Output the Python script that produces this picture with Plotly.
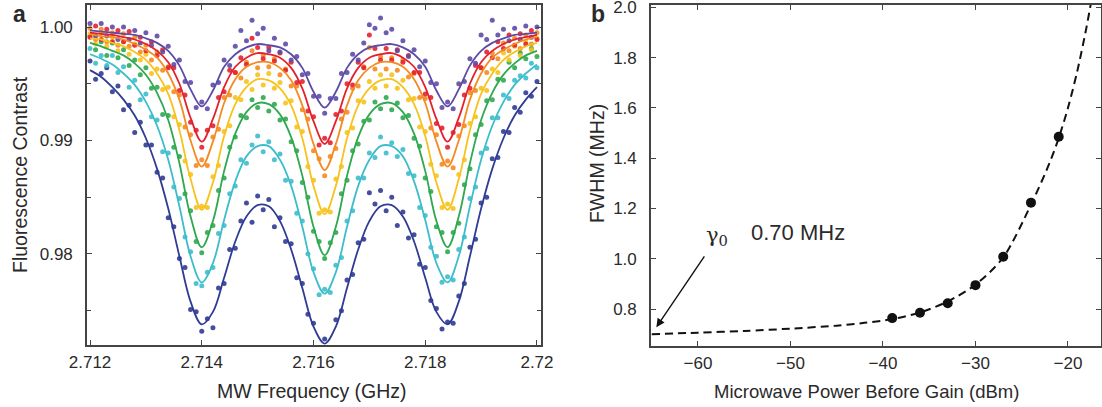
import plotly.graph_objects as go

# ---------------- Panel a data ----------------
FREQ_FIT = [round(2.712 + 0.0002 * i, 4) for i in range(41)]   # GHz
FREQ_DATA = [round(2.712 + 0.0001 * i, 4) for i in range(81)]  # GHz

SERIES_ORDER = ["navy", "cyan", "green", "yellow", "orange", "red", "purple"]

DATA_NAVY = [
    .9970, .9954, .9959, .9964, .9943, .9948, .9927, .9931, .9907, .9916,
    .9896, .9896, .9872, .9867, .9832, .9824, .9796, .9788, .9751, .9749,
    .9732, .9743, .9735, .9770, .9774, .9804, .9805, .9829, .9845, .9828,
    .9851, .9839, .9848, .9824, .9832, .9811, .9809, .9779, .9774, .9747,
    .9739, .9716, .9725, .9714, .9742, .9750, .9777, .9782, .9810, .9813,
    .9854, .9844, .9856, .9838, .9850, .9825, .9837, .9814, .9817, .9791,
    .9788, .9759, .9752, .9734, .9740, .9739, .9763, .9774, .9806, .9813,
    .9845, .9850, .9884, .9885, .9908, .9907, .9929, .9925, .9942, .9939,
    .9952]
DATA_CYAN = [
    .9981, .9968, .9975, .9966, .9975, .9960, .9965, .9947, .9953, .9936,
    .9941, .9921, .9918, .9890, .9889, .9859, .9849, .9815, .9802, .9774,
    .9772, .9784, .9788, .9818, .9825, .9853, .9860, .9883, .9880, .9896,
    .9904, .9890, .9899, .9883, .9888, .9865, .9864, .9836, .9829, .9800,
    .9787, .9764, .9769, .9766, .9790, .9797, .9829, .9838, .9867, .9867,
    .9889, .9885, .9903, .9889, .9898, .9886, .9892, .9871, .9869, .9841,
    .9834, .9806, .9798, .9775, .9780, .9777, .9804, .9815, .9849, .9859,
    .9889, .9893, .9920, .9920, .9940, .9937, .9953, .9957, .9955, .9968,
    .9964]
DATA_GREEN = [
    .9992, .9980, .9987, .9975, .9986, .9973, .9980, .9966, .9971, .9958,
    .9964, .9946, .9947, .9923, .9922, .9894, .9886, .9853, .9838, .9811,
    .9801, .9819, .9825, .9856, .9867, .9894, .9903, .9922, .9920, .9936,
    .9929, .9938, .9926, .9932, .9918, .9919, .9899, .9891, .9863, .9850,
    .9820, .9811, .9796, .9810, .9819, .9853, .9865, .9891, .9897, .9917,
    .9918, .9934, .9928, .9938, .9927, .9933, .9920, .9922, .9902, .9895,
    .9867, .9855, .9824, .9819, .9802, .9819, .9827, .9861, .9875, .9905,
    .9914, .9935, .9936, .9954, .9953, .9969, .9964, .9977, .9972, .9981,
    .9974]
DATA_YELLOW = [
    .9994, .9985, .9995, .9983, .9991, .9979, .9987, .9976, .9985, .9971,
    .9976, .9959, .9963, .9945, .9947, .9921, .9914, .9882, .9870, .9841,
    .9842, .9841, .9868, .9878, .9908, .9913, .9938, .9936, .9952, .9945,
    .9958, .9949, .9959, .9946, .9951, .9933, .9935, .9912, .9908, .9877,
    .9865, .9836, .9839, .9837, .9866, .9877, .9907, .9911, .9935, .9934,
    .9952, .9946, .9958, .9948, .9958, .9946, .9953, .9936, .9937, .9912,
    .9908, .9879, .9869, .9841, .9844, .9840, .9870, .9883, .9915, .9921,
    .9946, .9944, .9963, .9960, .9977, .9971, .9983, .9975, .9987, .9980,
    .9990]
DATA_ORANGE = [
    .9999, .9989, .9998, .9987, .9995, .9984, .9994, .9983, .9991, .9978,
    .9984, .9971, .9978, .9962, .9965, .9943, .9940, .9912, .9905, .9878,
    .9883, .9878, .9903, .9910, .9938, .9940, .9960, .9955, .9969, .9979,
    .9964, .9975, .9965, .9972, .9958, .9963, .9948, .9948, .9927, .9919,
    .9891, .9884, .9869, .9886, .9893, .9919, .9925, .9946, .9948, .9965,
    .9982, .9963, .9974, .9963, .9973, .9962, .9971, .9956, .9959, .9938,
    .9937, .9911, .9905, .9879, .9882, .9876, .9904, .9913, .9942, .9944,
    .9964, .9960, .9977, .9972, .9986, .9979, .9990, .9981, .9993, .9985,
    .9995]
DATA_RED = [
    .9991, 1.0001, .9989, .9998, .9987, .9997, .9987, .9996, .9984, .9991,
    .9979, .9987, .9975, .9980, .9964, .9964, .9944, .9940, .9916, .9909,
    .9894, .9909, .9913, .9938, .9943, .9962, .9960, .9973, .9967, .9990,
    .9982, .9972, .9982, .9970, .9977, .9962, .9969, .9951, .9952, .9926,
    .9921, .9896, .9902, .9898, .9923, .9926, .9950, .9949, .9969, .9964,
    .9993, .9981, .9971, .9981, .9971, .9980, .9969, .9975, .9960, .9960,
    .9941, .9938, .9915, .9911, .9894, .9907, .9914, .9940, .9946, .9966,
    .9964, .9978, .9973, .9987, .9981, .9993, .9984, .9994, .9985, .9997,
    .9989]
DATA_PURPLE = [
    1.0003, .9992, 1.0003, .9992, 1.0000, .9989, 1.0000, .9989, .9997, .9986,
    .9995, .9984, .9992, .9978, .9983, .9967, .9971, .9952, .9951, .9929,
    .9934, .9928, .9949, .9951, .9971, .9966, .9983, .9997, .9988, 1.0006,
    .9994, .9999, .9979, .9990, .9978, .9985, .9971, .9974, .9958, .9959,
    .9939, .9939, .9924, .9937, .9937, .9959, .9960, .9976, .9971, .9986,
    1.0002, .9999, 1.0008, .9995, .9998, .9979, .9988, .9974, .9980, .9965,
    .9970, .9951, .9950, .9929, .9934, .9928, .9950, .9952, .9972, .9968,
    .9993, .9989, 1.0006, .9993, .9998, .9988, .9999, .9989, 1.0001, .9991,
    1.0000]

FIT_NAVY = [
    .9962, .9956, .9947, .9936, .9922, .9902, .9875, .9840, .9798, .9758,
    .9738, .9749, .9779, .9811, .9833, .9843, .9842, .9829, .9804, .9770,
    .9736, .9721, .9736, .9770, .9804, .9829, .9842, .9843, .9833, .9811,
    .9779, .9749, .9738, .9758, .9798, .9840, .9875, .9902, .9922, .9936,
    .9947]
FIT_CYAN = [
    .9976, .9972, .9967, .9959, .9949, .9934, .9913, .9883, .9842, .9798,
    .9775, .9792, .9830, .9864, .9886, .9895, .9895, .9883, .9860, .9824,
    .9784, .9765, .9784, .9824, .9860, .9883, .9895, .9895, .9886, .9864,
    .9830, .9792, .9775, .9798, .9842, .9883, .9913, .9934, .9949, .9959,
    .9967]
FIT_GREEN = [
    .9986, .9983, .9979, .9975, .9968, .9958, .9942, .9918, .9880, .9833,
    .9806, .9829, .9873, .9906, .9925, .9933, .9932, .9923, .9903, .9869,
    .9824, .9799, .9824, .9869, .9903, .9923, .9932, .9933, .9925, .9906,
    .9873, .9829, .9806, .9833, .9880, .9918, .9942, .9958, .9968, .9975,
    .9979]
FIT_YELLOW = [
    .9990, .9989, .9986, .9983, .9978, .9971, .9959, .9941, .9909, .9866,
    .9839, .9863, .9904, .9932, .9947, .9954, .9953, .9946, .9931, .9902,
    .9860, .9835, .9860, .9902, .9931, .9946, .9953, .9954, .9947, .9932,
    .9904, .9863, .9839, .9866, .9909, .9941, .9959, .9971, .9978, .9983,
    .9986]
FIT_ORANGE = [
    .9994, .9992, .9991, .9989, .9985, .9980, .9973, .9959, .9936, .9900,
    .9877, .9899, .9933, .9954, .9965, .9969, .9969, .9964, .9953, .9931,
    .9897, .9874, .9897, .9931, .9953, .9964, .9969, .9969, .9965, .9954,
    .9933, .9899, .9877, .9900, .9936, .9959, .9973, .9980, .9985, .9989,
    .9991]
FIT_RED = [
    .9995, .9994, .9993, .9991, .9989, .9985, .9979, .9969, .9950, .9920,
    .9899, .9919, .9947, .9965, .9973, .9977, .9976, .9973, .9964, .9946,
    .9917, .9897, .9917, .9946, .9964, .9973, .9976, .9977, .9973, .9965,
    .9947, .9919, .9899, .9920, .9950, .9969, .9979, .9985, .9989, .9991,
    .9993]
FIT_PURPLE = [
    .9997, .9996, .9995, .9994, .9993, .9990, .9986, .9979, .9966, .9945,
    .9930, .9944, .9965, .9976, .9982, .9985, .9984, .9982, .9976, .9964,
    .9943, .9929, .9943, .9964, .9976, .9982, .9984, .9985, .9982, .9976,
    .9965, .9944, .9930, .9945, .9966, .9979, .9986, .9990, .9993, .9994,
    .9995]

FREQ_TICKS = [2.712, 2.714, 2.716, 2.718, 2.72]
FREQ_TICK_TEXT = ["2.712", "2.714", "2.716", "2.718", "2.72"]
CONTRAST_TICKS = [0.98, 0.99, 1.00]
CONTRAST_TICK_TEXT = ["0.98", "0.99", "1.00"]
CONTRAST_MINOR = [0.975, 0.985, 0.995]

# ---------------- Panel b data ----------------
POWER_DBM = [-39, -36, -33, -30, -27, -24, -21]
FWHM_MHZ = [0.764, 0.785, 0.823, 0.895, 1.008, 1.223, 1.485]
FIT_POWER = [-65, -60, -55, -50, -45, -42, -39, -36, -33, -30, -27, -24,
             -22, -21, -20, -19, -18, -17.5]
FIT_FWHM = [0.700, 0.706, 0.713, 0.722, 0.734, 0.745, 0.760, 0.786, 0.830,
            0.897, 1.005, 1.215, 1.380, 1.480, 1.600, 1.745, 1.920, 2.020]
POWER_TICKS = [-60, -50, -40, -30, -20]
FWHM_TICKS = [0.8, 1.0, 1.2, 1.4, 1.6, 1.8, 2.0]
GAMMA0_LABEL = "0.70 MHz"

# ---------------- styles ----------------
COLORS = {
    "navy": "#2f3b94",
    "cyan": "#3dbdcc",
    "green": "#2fa84f",
    "yellow": "#f7c21c",
    "orange": "#f58a20",
    "red": "#e3212d",
    "purple": "#5d4aa6",
}
DATA = {"navy": DATA_NAVY, "cyan": DATA_CYAN, "green": DATA_GREEN,
        "yellow": DATA_YELLOW, "orange": DATA_ORANGE, "red": DATA_RED,
        "purple": DATA_PURPLE}
FITS = {"navy": FIT_NAVY, "cyan": FIT_CYAN, "green": FIT_GREEN,
        "yellow": FIT_YELLOW, "orange": FIT_ORANGE, "red": FIT_RED,
        "purple": FIT_PURPLE}

FONT = "Liberation Sans, Arial, Helvetica, sans-serif"
TXT = "#2a2a2a"
AX = "#444444"

W, H = 1102, 407
fig = go.Figure()

for name in SERIES_ORDER:
    vals = DATA[name]
    fig.add_trace(go.Scatter(
        x=FREQ_DATA[:len(vals)], y=vals, mode="markers",
        marker=dict(color=COLORS[name], size=5, opacity=0.9, line=dict(width=0)),
        xaxis="x", yaxis="y", showlegend=False, hoverinfo="skip"))
for name in SERIES_ORDER:
    vals = FITS[name]
    fig.add_trace(go.Scatter(
        x=FREQ_FIT[:len(vals)], y=vals, mode="lines",
        line=dict(color=COLORS[name], width=1.8, shape="spline", smoothing=1.0),
        xaxis="x", yaxis="y", showlegend=False, hoverinfo="skip"))

fig.add_trace(go.Scatter(
    x=FIT_POWER, y=FIT_FWHM, mode="lines",
    line=dict(color="#111111", width=2, dash="8px,5px", shape="spline", smoothing=0.8),
    xaxis="x2", yaxis="y2", showlegend=False, hoverinfo="skip"))
fig.add_trace(go.Scatter(
    x=POWER_DBM, y=FWHM_MHZ, mode="markers",
    marker=dict(color="#111111", size=10, line=dict(width=0)),
    xaxis="x2", yaxis="y2", showlegend=False))

def px_x(p):
    return p / W

def px_y(p):
    return (H - p) / H

axis_common = dict(
    showgrid=False, zeroline=False, showline=True, linecolor=AX, linewidth=1.6,
    mirror="ticks", ticks="inside", ticklen=5, tickwidth=1.3, tickcolor=AX,
    tickfont=dict(family=FONT, size=17, color=TXT), automargin=False,
    ticklabeloverflow="allow",
)

fig.update_layout(
    width=W, height=H,
    margin=dict(l=0, r=0, t=0, b=0, autoexpand=False),
    paper_bgcolor="white", plot_bgcolor="white",
    xaxis=dict(domain=[px_x(87), px_x(541)], range=[2.711946, 2.720072],
               tickmode="array", tickvals=FREQ_TICKS, ticktext=FREQ_TICK_TEXT,
               ticklabelstandoff=1, anchor="y", **axis_common),
    yaxis=dict(domain=[px_y(345), px_y(5)], range=[0.97198, 1.00194],
               tickmode="array", tickvals=CONTRAST_TICKS, ticktext=CONTRAST_TICK_TEXT,
               minor=dict(tickmode="array", tickvals=CONTRAST_MINOR, ticks="inside",
                          ticklen=4, tickcolor=AX, tickwidth=1.2),
               ticklabelstandoff=9, anchor="x", **axis_common),
    xaxis2=dict(domain=[px_x(651), px_x(1101)], range=[-65.08, -16.43],
                tickmode="array", tickvals=POWER_TICKS,
                ticklabelstandoff=1, anchor="y2", **axis_common),
    yaxis2=dict(domain=[px_y(346), px_y(5)], range=[0.653, 2.009],
                tickmode="array", tickvals=FWHM_TICKS, tickformat=".1f",
                ticklabelstandoff=9, anchor="x2", **axis_common),
)

def paper_text(text, x, y, size, angle=0, bold=False):
    fig.add_annotation(
        text=f"<b>{text}</b>" if bold else text,
        x=px_x(x), y=px_y(y), xref="paper", yref="paper",
        xanchor="center", yanchor="middle", showarrow=False, textangle=angle,
        font=dict(family=FONT, size=size, color=TXT))

paper_text("Fluorescence Contrast", 20, 175, 19.5, angle=-90)
paper_text("MW Frequency (GHz)", 312, 391, 19.5)
paper_text("FWHM (MHz)", 597, 164, 19.5, angle=-90)
paper_text("Microwave Power Before Gain (dBm)", 866, 391, 18.5)
paper_text("a", 19, 14, 23, bold=True)
paper_text("b", 598, 14, 23, bold=True)

fig.add_annotation(
    x=-64.5, y=0.728, ax=-59.2, ay=1.015, xref="x2", yref="y2",
    axref="x2", ayref="y2", text="", showarrow=True,
    arrowhead=2, arrowsize=1.2, arrowwidth=1.4, arrowcolor="#111111")
fig.add_annotation(
    x=-57.9, y=1.09, xref="x2", yref="y2", text="γ<sub>0</sub>",
    showarrow=False, xanchor="center", yanchor="middle",
    font=dict(family="DejaVu Serif, serif", size=21, color=TXT))
fig.add_annotation(
    x=-49.2, y=1.106, xref="x2", yref="y2", text=GAMMA0_LABEL,
    showarrow=False, xanchor="center", yanchor="middle",
    font=dict(family=FONT, size=22, color=TXT))

fig.write_html("out.html", config={"displayModeBar": False},
               post_script="document.body.style.margin='0px';document.body.style.overflow='hidden';")
